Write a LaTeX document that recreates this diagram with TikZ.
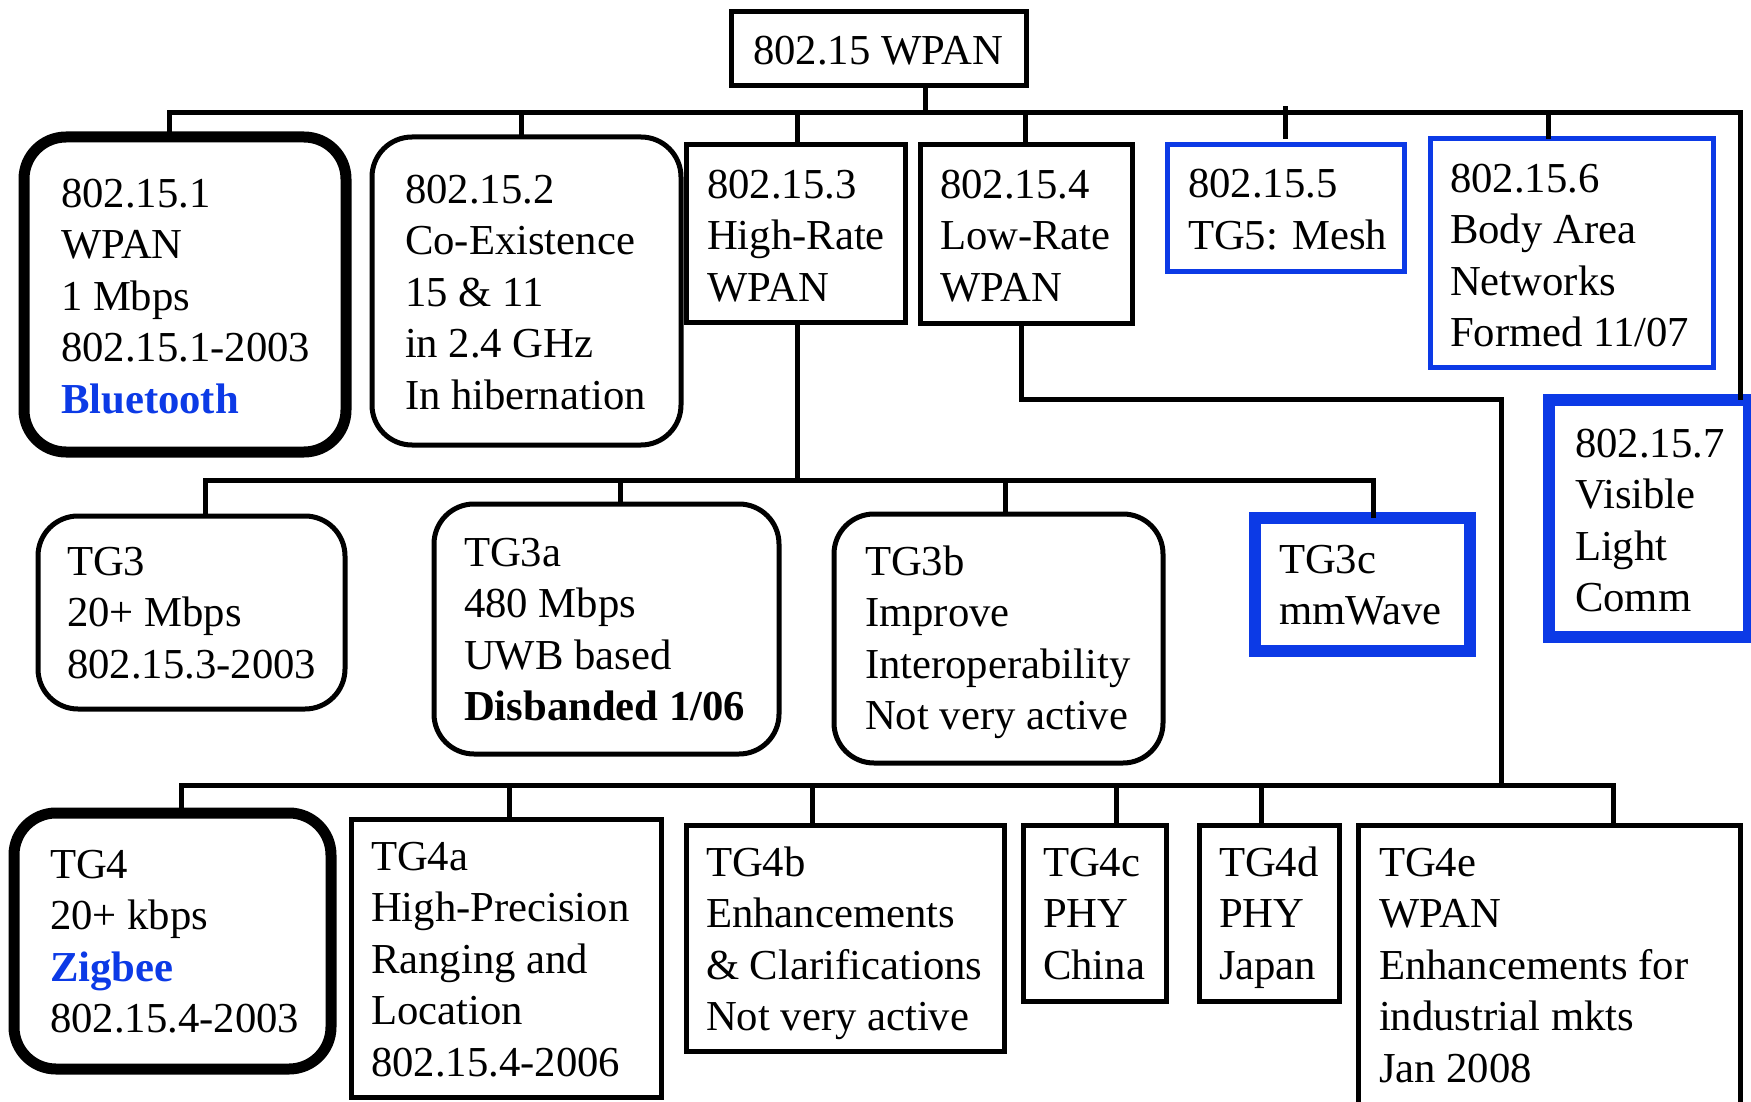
\documentclass[tikz,border=0pt]{standalone}
\usepackage{fontspec}
\setmainfont{Liberation Serif}
\usetikzlibrary{calc}
\definecolor{wblue}{RGB}{12,58,230}
\tikzset{
  wire/.style={line width=5pt},
  plain/.style={draw, line width=5pt},
  rplain/.style={draw, line width=5pt, rounded corners=40pt},
  rthick/.style={draw, line width=11pt, rounded corners=42pt},
  bplain/.style={draw=wblue, line width=5pt},
  bthick/.style={draw=wblue, line width=12pt},
  txt/.style={align=left, inner sep=0pt, outer sep=0pt, anchor=north west, font=\fontsize{42.7}{51.5}\selectfont}
}
\newcommand{\wbox}[9]{\pgfmathsetmacro{\wbw}{#4-#2}\pgfmathsetmacro{\wbh}{#5-#3}%
  \node[#6, anchor=north west, inner sep=0pt, outer sep=0pt, minimum width=\wbw pt, minimum height=\wbh pt] (#1) at (#2,#3) {};
  \node[txt] (#1t) at (#7,#8-36.05) {\strut #9};}

\begin{document}
\begin{tikzpicture}[x=1pt,y=-1pt]
  \useasboundingbox (0,0) rectangle (1751,1102);
  \wbox{root}{731}{12}{1026}{86}{plain}{753}{65}{802.15 WPAN}
  \wbox{bt}{24}{137}{346}{452}{rthick}{61}{207}{802.15.1\\WPAN\\1 Mbps\\802.15.1-2003\\\textcolor{wblue}{\textbf{Bluetooth}}}
  \wbox{coex}{372}{137}{681}{445}{rplain}{405}{203}{802.15.2\\Co-Existence\\15 \& 11\\in 2.4 GHz\\In hibernation}
  \wbox{hr}{686}{145}{905}{322}{plain}{707}{198}{802.15.3\\High-Rate\\WPAN}
  \wbox{lr}{920}{145}{1132}{323}{plain}{940}{198}{802.15.4\\Low-Rate\\WPAN}
  \wbox{mesh}{1167}{145}{1404}{271}{bplain}{1188}{198}{802.15.5\\TG5: Mesh}
  \wbox{ban}{1430}{139}{1713}{367}{bplain}{1450}{192}{802.15.6\\Body Area\\Networks\\Formed 11/07}
  \wbox{vlc}{1549}{400}{1749}{637}{bthick}{1575}{457}{802.15.7\\Visible\\Light\\Comm}
  \wbox{tg3}{38}{516}{345}{709}{rplain}{67}{575}{TG3\\20+ Mbps\\802.15.3-2003}
  \wbox{tg3a}{434}{504}{779}{754}{rplain}{464}{566}{TG3a\\480 Mbps\\UWB based\\\textbf{Disbanded 1/06}}
  \wbox{tg3b}{834}{514}{1163}{763}{rplain}{865}{575}{TG3b\\Improve\\Interoperability\\Not very active}
  \wbox{tg3c}{1255}{518}{1470}{651}{bthick}{1279}{573}{TG3c\\mmWave}
  \wbox{tg4}{14}{813}{331}{1069}{rthick}{50}{878}{TG4\\20+ kbps\\\textcolor{wblue}{\textbf{Zigbee}}\\802.15.4-2003}
  \wbox{tg4a}{351}{819}{661}{1097}{plain}{371}{870}{TG4a\\High-Precision\\Ranging and\\Location\\802.15.4-2006}
  \wbox{tg4b}{686}{825}{1004}{1051}{plain}{706}{876}{TG4b\\Enhancements\\\& Clarifications\\Not very active}
  \wbox{tg4c}{1023}{825}{1166}{1001}{plain}{1043}{876}{TG4c\\PHY\\China}
  \wbox{tg4d}{1199}{825}{1339}{1001}{plain}{1219}{876}{TG4d\\PHY\\Japan}
  \wbox{tg4e}{1358}{825}{1740}{1140}{plain}{1379}{876}{TG4e\\WPAN\\Enhancements for\\industrial mkts\\Jan 2008}
  \coordinate (bus1) at (0,113);
  \coordinate (bus2) at (0,480);
  \coordinate (bus3) at (0,785);
  \coordinate (lrknee) at (1501,399);
  \draw[wire] ([xshift=46.5pt]root.south) -- ([xshift=46.5pt]root.south |- bus1);
  \draw[wire] ([xshift=-16pt]bt.north) |- ([xshift=91pt]vlc.north |- bus1) -- ([xshift=91pt]vlc.north);
  \foreach \n/\dx in {coex/-5.5, hr/1.5, lr/-1, ban/-23.5}
    \draw[wire] ([xshift=\dx pt]\n.north) -- ([xshift=\dx pt]\n.north |- bus1);
  \draw[wire, shorten <=6pt, shorten >=-7pt] ([xshift=-0.5pt]mesh.north) -- ([xshift=-0.5pt]mesh.north |- bus1);
  \draw[wire] ([xshift=1.5pt]hr.south) -- ([xshift=1.5pt]hr.south |- bus2);
  \draw[wire] ([xshift=13.5pt]tg3.north) |- ([xshift=10.5pt]tg3c.north |- bus2) -- ([xshift=10.5pt]tg3c.north);
  \foreach \n/\dx in {tg3a/13.5, tg3b/6.5}
    \draw[wire] ([xshift=\dx pt]\n.north) -- ([xshift=\dx pt]\n.north |- bus2);
  \draw[wire] ([xshift=-5pt]lr.south) |- (lrknee) -- (lrknee |- bus3);
  \draw[wire] ([xshift=8.5pt]tg4.north) |- ([xshift=64pt]tg4e.north |- bus3) -- ([xshift=64pt]tg4e.north);
  \foreach \n/\dx in {tg4a/3, tg4b/-33, tg4c/21.5, tg4d/-8}
    \draw[wire] ([xshift=\dx pt]\n.north) -- ([xshift=\dx pt]\n.north |- bus3);
\end{tikzpicture}
\end{document}
